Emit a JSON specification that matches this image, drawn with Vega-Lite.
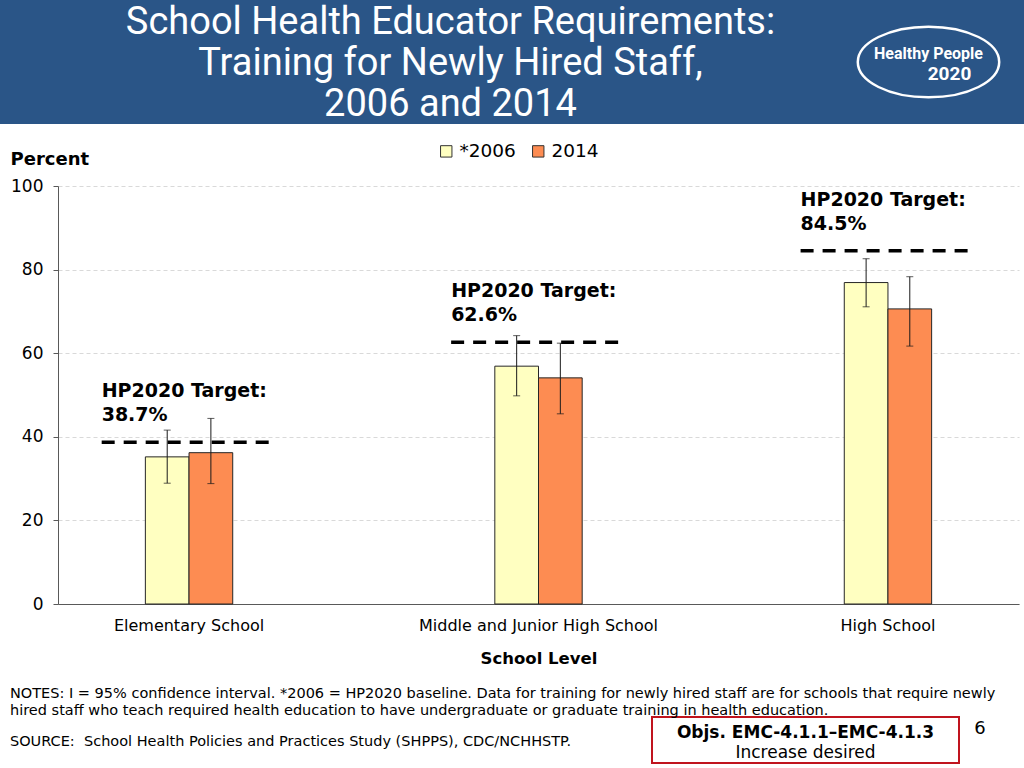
{
  "$schema": "https://vega.github.io/schema/vega-lite/v6.json",
  "padding": 0,
  "spacing": 18,
  "background": "white",
  "config": {"font": "DejaVu Sans", "view": {"stroke": null}, "concat": {"spacing": 0}},
  "resolve": {"legend": {"color": "independent"}},
  "vconcat": [
    {
      "spacing": 0,
      "hconcat": [
        {
          "width": 833, "height": 124,
          "view": {"fill": "#2A5587", "stroke": null},
          "data": {"values": [{"t": "title"}]},
          "mark": {"type": "text", "font": "Roboto", "fontSize": 38, "color": "white", "lineHeight": 41, "baseline": "middle", "align": "center", "dx": 34, "dy": -39},
          "encoding": {"text": {"value": ["School Health Educator Requirements:", "Training for Newly Hired Staff,", "2006 and 2014"]}}
        },
        {
          "width": 191, "height": 124,
          "view": {"fill": "#2A5587", "stroke": null},
          "data": {"values": [{"t": "logo"}]},
          "layer": [
            {"mark": {"type": "point", "shape": "M -1 0 A 1 0.5 0 1 1 1 0 A 1 0.5 0 1 1 -1 0 Z", "size": 20000, "filled": false, "stroke": "white", "strokeWidth": 2.5, "opacity": 1}, "encoding": {}},
            {"mark": {"type": "text", "font": "Roboto", "fontSize": 16, "fontWeight": "bold", "color": "white", "dy": -8}, "encoding": {"text": {"value": "Healthy People"}}},
            {"mark": {"type": "text", "font": "Roboto", "fontSize": 19, "fontWeight": "bold", "color": "white", "dy": 12, "dx": 21}, "encoding": {"text": {"value": "2020"}}}
          ]
        }
      ]
    },
    {
      "spacing": 0,
      "resolve": {"legend": {"color": "independent"}},
      "hconcat": [
        {"width": 10, "height": 10, "data": {"values": [{}]}, "mark": "text", "encoding": {"text": {"value": ""}}},
        {
          "width": 961, "height": 418,
          "data": {"values": [
            {"level": "Elementary School", "year": "*2006", "value": 35.2, "lo": 28.9, "hi": 41.6},
            {"level": "Elementary School", "year": "2014", "value": 36.2, "lo": 28.8, "hi": 44.4},
            {"level": "Middle and Junior High School", "year": "*2006", "value": 56.9, "lo": 49.8, "hi": 64.2},
            {"level": "Middle and Junior High School", "year": "2014", "value": 54.1, "lo": 45.5, "hi": 62.4},
            {"level": "High School", "year": "*2006", "value": 76.9, "lo": 71.1, "hi": 82.6},
            {"level": "High School", "year": "2014", "value": 70.6, "lo": 61.7, "hi": 78.3}
          ]},
          "layer": [
            {
              "mark": {"type": "bar", "stroke": "#262626", "strokeWidth": 1},
              "encoding": {
                "x": {"field": "level", "type": "nominal", "sort": ["Elementary School", "Middle and Junior High School", "High School"], "scale": {"paddingInner": 0.5, "paddingOuter": 0.125}, "title": "School Level",
                  "axis": {"domainColor": "#595959", "ticks": false, "labelFontSize": 16, "labelColor": "black", "labelPadding": 13, "labelAngle": 0, "labelLimit": 0, "titleFontSize": 16.5, "titleFontWeight": "bold", "titleColor": "black", "titlePadding": 17, "grid": false}},
                "xOffset": {"field": "year", "type": "nominal", "sort": ["*2006", "2014"], "scale": {"paddingOuter": 1, "paddingInner": 0}},
                "y": {"field": "value", "type": "quantitative", "scale": {"domain": [0, 100]}, "title": "Percent",
                  "axis": {"values": [0, 20, 40, 60, 80, 100], "grid": true, "gridDash": [4, 3], "gridColor": "#d9d9d9", "domainColor": "#595959", "tickColor": "#595959", "tickSize": 5, "labelFontSize": 17, "labelColor": "black", "labelPadding": 10, "titleAngle": 0, "titleAlign": "left", "titleBaseline": "middle", "titleX": -48, "titleY": -27, "titleFontSize": 18, "titleFontWeight": "bold", "titleColor": "black"}},
                "color": {"field": "year", "type": "nominal", "scale": {"domain": ["*2006", "2014"], "range": ["#FFFFC1", "#FD8C52"]},
                  "legend": {"orient": "none", "legendX": 379, "legendY": -44, "direction": "horizontal", "title": null, "symbolType": "square", "symbolSize": 130, "symbolStrokeColor": "#333333", "symbolStrokeWidth": 1, "symbolOpacity": 1, "labelFontSize": 18.5, "labelColor": "black", "columnPadding": 13, "labelOffset": 4}}
              }
            },
            {
              "mark": {"type": "rule", "color": "#1a1a1a", "strokeWidth": 1},
              "encoding": {
                "x": {"field": "level", "type": "nominal", "sort": ["Elementary School", "Middle and Junior High School", "High School"]},
                "xOffset": {"field": "year", "type": "nominal", "sort": ["*2006", "2014"]},
                "y": {"field": "lo", "type": "quantitative"},
                "y2": {"field": "hi"}
              }
            },
            {
              "mark": {"type": "tick", "color": "#1a1a1a", "thickness": 1, "size": 7},
              "encoding": {
                "x": {"field": "level", "type": "nominal", "sort": ["Elementary School", "Middle and Junior High School", "High School"]},
                "xOffset": {"field": "year", "type": "nominal", "sort": ["*2006", "2014"]},
                "y": {"field": "lo", "type": "quantitative"}
              }
            },
            {
              "mark": {"type": "tick", "color": "#1a1a1a", "thickness": 1, "size": 7},
              "encoding": {
                "x": {"field": "level", "type": "nominal", "sort": ["Elementary School", "Middle and Junior High School", "High School"]},
                "xOffset": {"field": "year", "type": "nominal", "sort": ["*2006", "2014"]},
                "y": {"field": "hi", "type": "quantitative"}
              }
            },
            {
              "data": {"values": [
                {"level": "Elementary School", "target": 38.7, "label": "HP2020 Target:\n38.7%"},
                {"level": "Middle and Junior High School", "target": 62.6, "label": "HP2020 Target:\n62.6%"},
                {"level": "High School", "target": 84.5, "label": "HP2020 Target:\n84.5%"}
              ]},
              "layer": [
                {
                  "mark": {"type": "rule", "strokeDash": [13, 9], "strokeWidth": 3.5, "color": "black"},
                  "encoding": {
                    "x": {"field": "level", "type": "nominal", "sort": ["Elementary School", "Middle and Junior High School", "High School"], "bandPosition": 0},
                    "x2": {"field": "level", "bandPosition": 0.963},
                    "y": {"field": "target", "type": "quantitative"}
                  }
                },
                {
                  "mark": {"type": "text", "align": "left", "baseline": "bottom", "fontWeight": "bold", "fontSize": 19, "lineBreak": "\n", "lineHeight": 24, "dy": -41, "color": "black"},
                  "encoding": {
                    "x": {"field": "level", "type": "nominal", "sort": ["Elementary School", "Middle and Junior High School", "High School"], "bandPosition": 0},
                    "y": {"field": "target", "type": "quantitative"},
                    "text": {"field": "label"}
                  }
                }
              ]
            }
          ]
        }
      ]
    },
    {
      "spacing": 0,
      "title": {"text": ["NOTES: I = 95% confidence interval. *2006 = HP2020 baseline. Data for training for newly hired staff are for schools that require newly", "hired staff who teach required health education to have undergraduate or graduate training in health education."], "anchor": "start", "fontSize": 14.5, "fontWeight": "normal", "lineHeight": 17, "offset": -2, "dx": 10, "font": "DejaVu Sans", "color": "black"},
      "hconcat": [
        {
          "width": 651, "height": 46,
          "data": {"values": [{}]},
          "mark": {"type": "text", "align": "left", "fontSize": 14.5, "dx": -315.5, "dy": 2, "color": "black"},
          "encoding": {"text": {"value": "SOURCE:\u00a0 School Health Policies and Practices Study (SHPPS), CDC/NCHHSTP."}}
        },
        {
          "width": 307, "height": 46,
          "view": {"stroke": "#C0141E", "strokeWidth": 2},
          "data": {"values": [{}]},
          "layer": [
            {"mark": {"type": "text", "fontSize": 17, "fontWeight": "bold", "dy": -7, "color": "black"}, "encoding": {"text": {"value": "Objs. EMC-4.1.1–EMC-4.1.3"}}},
            {"mark": {"type": "text", "fontSize": 17, "dy": 13, "color": "black"}, "encoding": {"text": {"value": "Increase desired"}}}
          ]
        },
        {
          "width": 66, "height": 46,
          "data": {"values": [{}]},
          "mark": {"type": "text", "fontSize": 18, "dx": -13, "dy": -11, "color": "black"},
          "encoding": {"text": {"value": "6"}}
        }
      ]
    }
  ]
}
